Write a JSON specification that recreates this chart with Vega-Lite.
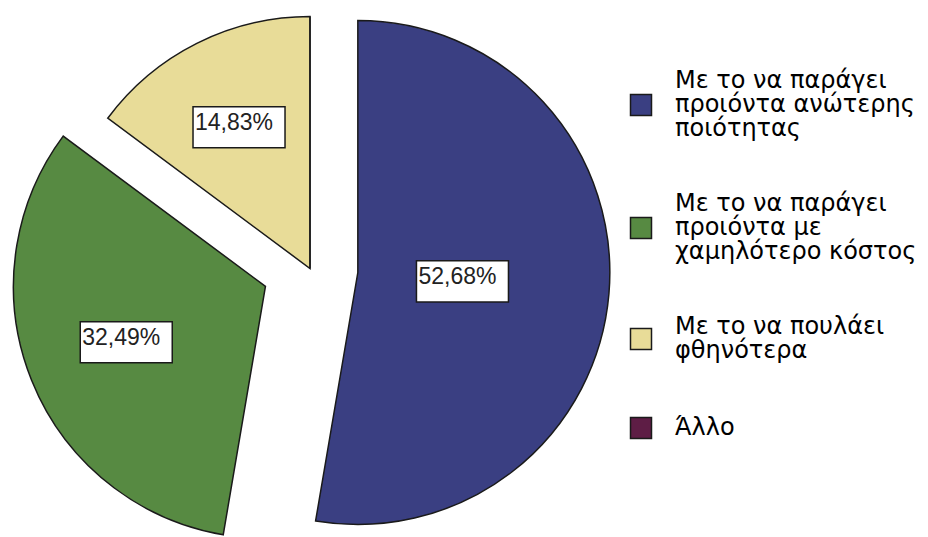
{
  "$schema": "https://vega.github.io/schema/vega-lite/v6.json",
  "width": 620,
  "height": 537,
  "autosize": {"type": "none"},
  "padding": {"left": 0, "top": 0, "right": 308, "bottom": 0},
  "background": "white",
  "config": {"view": {"stroke": null}, "font": "Liberation Sans"},
  "data": {
    "values": [
      {"order": 1, "answer": "Με το να παράγει\nπροιόντα ανώτερης\nποιότητας", "pct": 52.68},
      {"order": 2, "answer": "Με το να παράγει\nπροιόντα με\nχαμηλότερο κόστος", "pct": 32.49},
      {"order": 3, "answer": "Με το να πουλάει\nφθηνότερα", "pct": 14.83},
      {"order": 4, "answer": "Άλλο", "pct": 0}
    ]
  },
  "transform": [
    {"stack": "pct", "groupby": [], "sort": [{"field": "order", "order": "ascending"}], "as": ["p0", "p1"]}
  ],
  "layer": [
    {
      "mark": {
        "type": "arc",
        "outerRadius": 252,
        "stroke": "#1a1a1a",
        "strokeWidth": 1.5,
        "xOffset": {"expr": "(datum.order <= 2 ? 48 : 0) * sin(PI * (datum.p0 + datum.p1) / 100)"},
        "yOffset": {"expr": "-(datum.order <= 2 ? 48 : 0) * cos(PI * (datum.p0 + datum.p1) / 100)"}
      },
      "encoding": {
        "theta": {"field": "p0", "type": "quantitative", "scale": {"domain": [0, 100]}},
        "theta2": {"field": "p1"},
        "color": {
          "field": "answer",
          "type": "nominal",
          "scale": {
            "domain": [
              "Με το να παράγει\nπροιόντα ανώτερης\nποιότητας",
              "Με το να παράγει\nπροιόντα με\nχαμηλότερο κόστος",
              "Με το να πουλάει\nφθηνότερα",
              "Άλλο"
            ],
            "range": ["#3a3f82", "#578a42", "#e8dc98", "#5e1d45"]
          },
          "legend": {
            "orient": "none",
            "legendX": 629,
            "legendY": 93,
            "title": null,
            "symbolType": "square",
            "symbolSize": 441,
            "symbolStrokeColor": "#1a1a1a",
            "symbolStrokeWidth": 1.5,
            "symbolOpacity": 1,
            "labelFont": "DejaVu Sans",
            "labelFontSize": 24,
            "labelLineHeight": 24,
            "labelColor": "#000000",
            "labelLimit": 0,
            "labelOffset": 22,
            "labelBaseline": "middle",
            "rowPadding": 51,
            "labelExpr": "split(datum.label, '\\n')",
            "encode": {
              "labels": {
                "update": {
                  "lineHeight": {"value": 24},
                  "dy": {"signal": "-(length(split(datum.label, '\\n')) - 1) * 12"}
                }
              }
            }
          }
        }
      }
    },
    {
      "transform": [{"filter": "datum.pct > 0"}],
      "mark": {
        "type": "point",
        "shape": "M-1,-0.446L1,-0.446L1,0.446L-1,0.446Z",
        "size": 8464,
        "filled": true,
        "fill": "white",
        "stroke": "#1a1a1a",
        "strokeWidth": 1.5,
        "opacity": 1,
        "xOffset": {"expr": "((datum.order <= 2 ? 48 : 0) + (datum.order == 1 ? 105 : datum.order == 2 ? 150 : 158)) * sin(PI * (datum.p0 + datum.p1) / 100)"},
        "yOffset": {"expr": "-((datum.order <= 2 ? 48 : 0) + (datum.order == 1 ? 105 : datum.order == 2 ? 150 : 158)) * cos(PI * (datum.p0 + datum.p1) / 100)"}
      },
      "encoding": {}
    },
    {
      "transform": [{"filter": "datum.pct > 0"}],
      "mark": {
        "type": "text",
        "font": "Liberation Sans",
        "fontSize": 23,
        "color": "#222222",
        "align": "left",
        "baseline": "alphabetic",
        "text": {"expr": "replace(format(datum.pct, '.2f'), '.', ',') + '%'"},
        "xOffset": {"expr": "((datum.order <= 2 ? 48 : 0) + (datum.order == 1 ? 105 : datum.order == 2 ? 150 : 158)) * sin(PI * (datum.p0 + datum.p1) / 100) - 44"},
        "yOffset": {"expr": "-((datum.order <= 2 ? 48 : 0) + (datum.order == 1 ? 105 : datum.order == 2 ? 150 : 158)) * cos(PI * (datum.p0 + datum.p1) / 100) + 3"}
      },
      "encoding": {}
    }
  ]
}
